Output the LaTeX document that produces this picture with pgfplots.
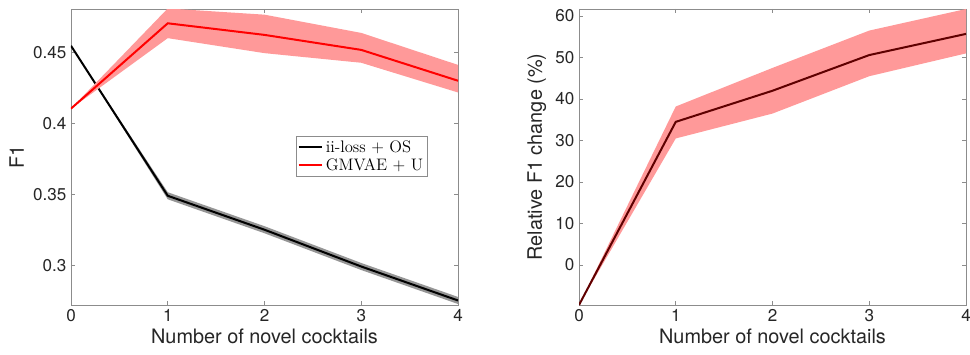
\documentclass[border=0pt]{standalone}
\usepackage{fontspec}
\setmainfont{TeX Gyre Heros}
\newfontfamily\lmr{Latin Modern Roman}
\usepackage{pgfplots}
\pgfplotsset{compat=1.18}
\definecolor{bandred}{RGB}{255,153,153}
\definecolor{bandgray}{RGB}{150,150,150}
\definecolor{axgray}{RGB}{140,140,140}
\definecolor{txt}{RGB}{38,38,38}
\definecolor{darkred}{RGB}{95,0,0}
\pgfplotsset{mystyle/.style={
  scale only axis, width=290.25pt, height=222pt,
  xmin=0, xmax=4, xtick={0,1,2,3,4},
  axis line style={axgray, line width=0.6pt},
  every tick/.style={axgray, line width=0.6pt},
  major tick length=3pt, tick align=inside,
  ticklabel style={color=txt, font=\fontsize{12.8}{15}\selectfont},
  label style={color=txt, font=\fontsize{14.9}{17}\selectfont},
  /pgf/number format/assume math mode=true,
  xlabel={Number of novel cocktails},
  xlabel style={yshift=2pt},
}}
\begin{document}
\begin{tikzpicture}
\path[use as bounding box] (-53.25pt,-36.75pt) rectangle (674.25pt,228.75pt);
\begin{axis}[mystyle,
  ymin=0.2718, ymax=0.481,
  ytick={0.3,0.35,0.4,0.45},
  yticklabel style={/pgf/number format/fixed, /pgf/number format/precision=2},
  ylabel={F1},
  legend style={at={(0.581,0.571)}, anchor=north west, draw=axgray, line width=0.6pt,
    font=\lmr\fontsize{12.5}{15}\selectfont, inner sep=1pt, row sep=-1pt,
    cells={anchor=west}},
  legend image code/.code={\draw[#1, line width=1.5pt] (0cm,0cm) -- (0.62cm,0cm);},
]
\addplot[fill=bandgray, draw=none, forget plot] coordinates {
 (0,0.455) (1,0.3515) (2,0.3275) (3,0.3015) (4,0.2775)
 (4,0.2725) (3,0.2965) (2,0.3225) (1,0.3465) (0,0.455)} -- cycle;
\addplot[black, line width=1.5pt] coordinates {
 (0,0.455) (1,0.349) (2,0.325) (3,0.299) (4,0.275)};
\addlegendentry{ii-loss + OS}
\addplot[fill=bandred, draw=none, forget plot] coordinates {
 (0,0.4106) (1,0.4814) (2,0.477) (3,0.4641) (4,0.4415)
 (4,0.422) (3,0.443) (2,0.4498) (1,0.4604) (0,0.4106)} -- cycle;
\addplot[red, line width=1.5pt] coordinates {
 (0,0.4106) (1,0.4709) (2,0.4627) (3,0.4521) (4,0.4303)};
\addlegendentry{GMVAE + U}
\end{axis}
\begin{axis}[mystyle, at={(381pt,0pt)},
  ymin=-9.64, ymax=61.7,
  ytick={0,10,20,30,40,50,60},
  ylabel={Relative F1 change (\%)},
]
\addplot[fill=bandred, draw=none] coordinates {
 (0,-9.64) (1,38.2) (2,47.5) (3,56.5) (4,61.7)
 (4,51.0) (3,45.5) (2,36.5) (1,30.5) (0,-9.64)} -- cycle;
\addplot[darkred, line width=1.5pt] coordinates {
 (0,-9.64) (1,34.5) (2,42.0) (3,50.6) (4,55.7)};
\end{axis}
\end{tikzpicture}
\end{document}
